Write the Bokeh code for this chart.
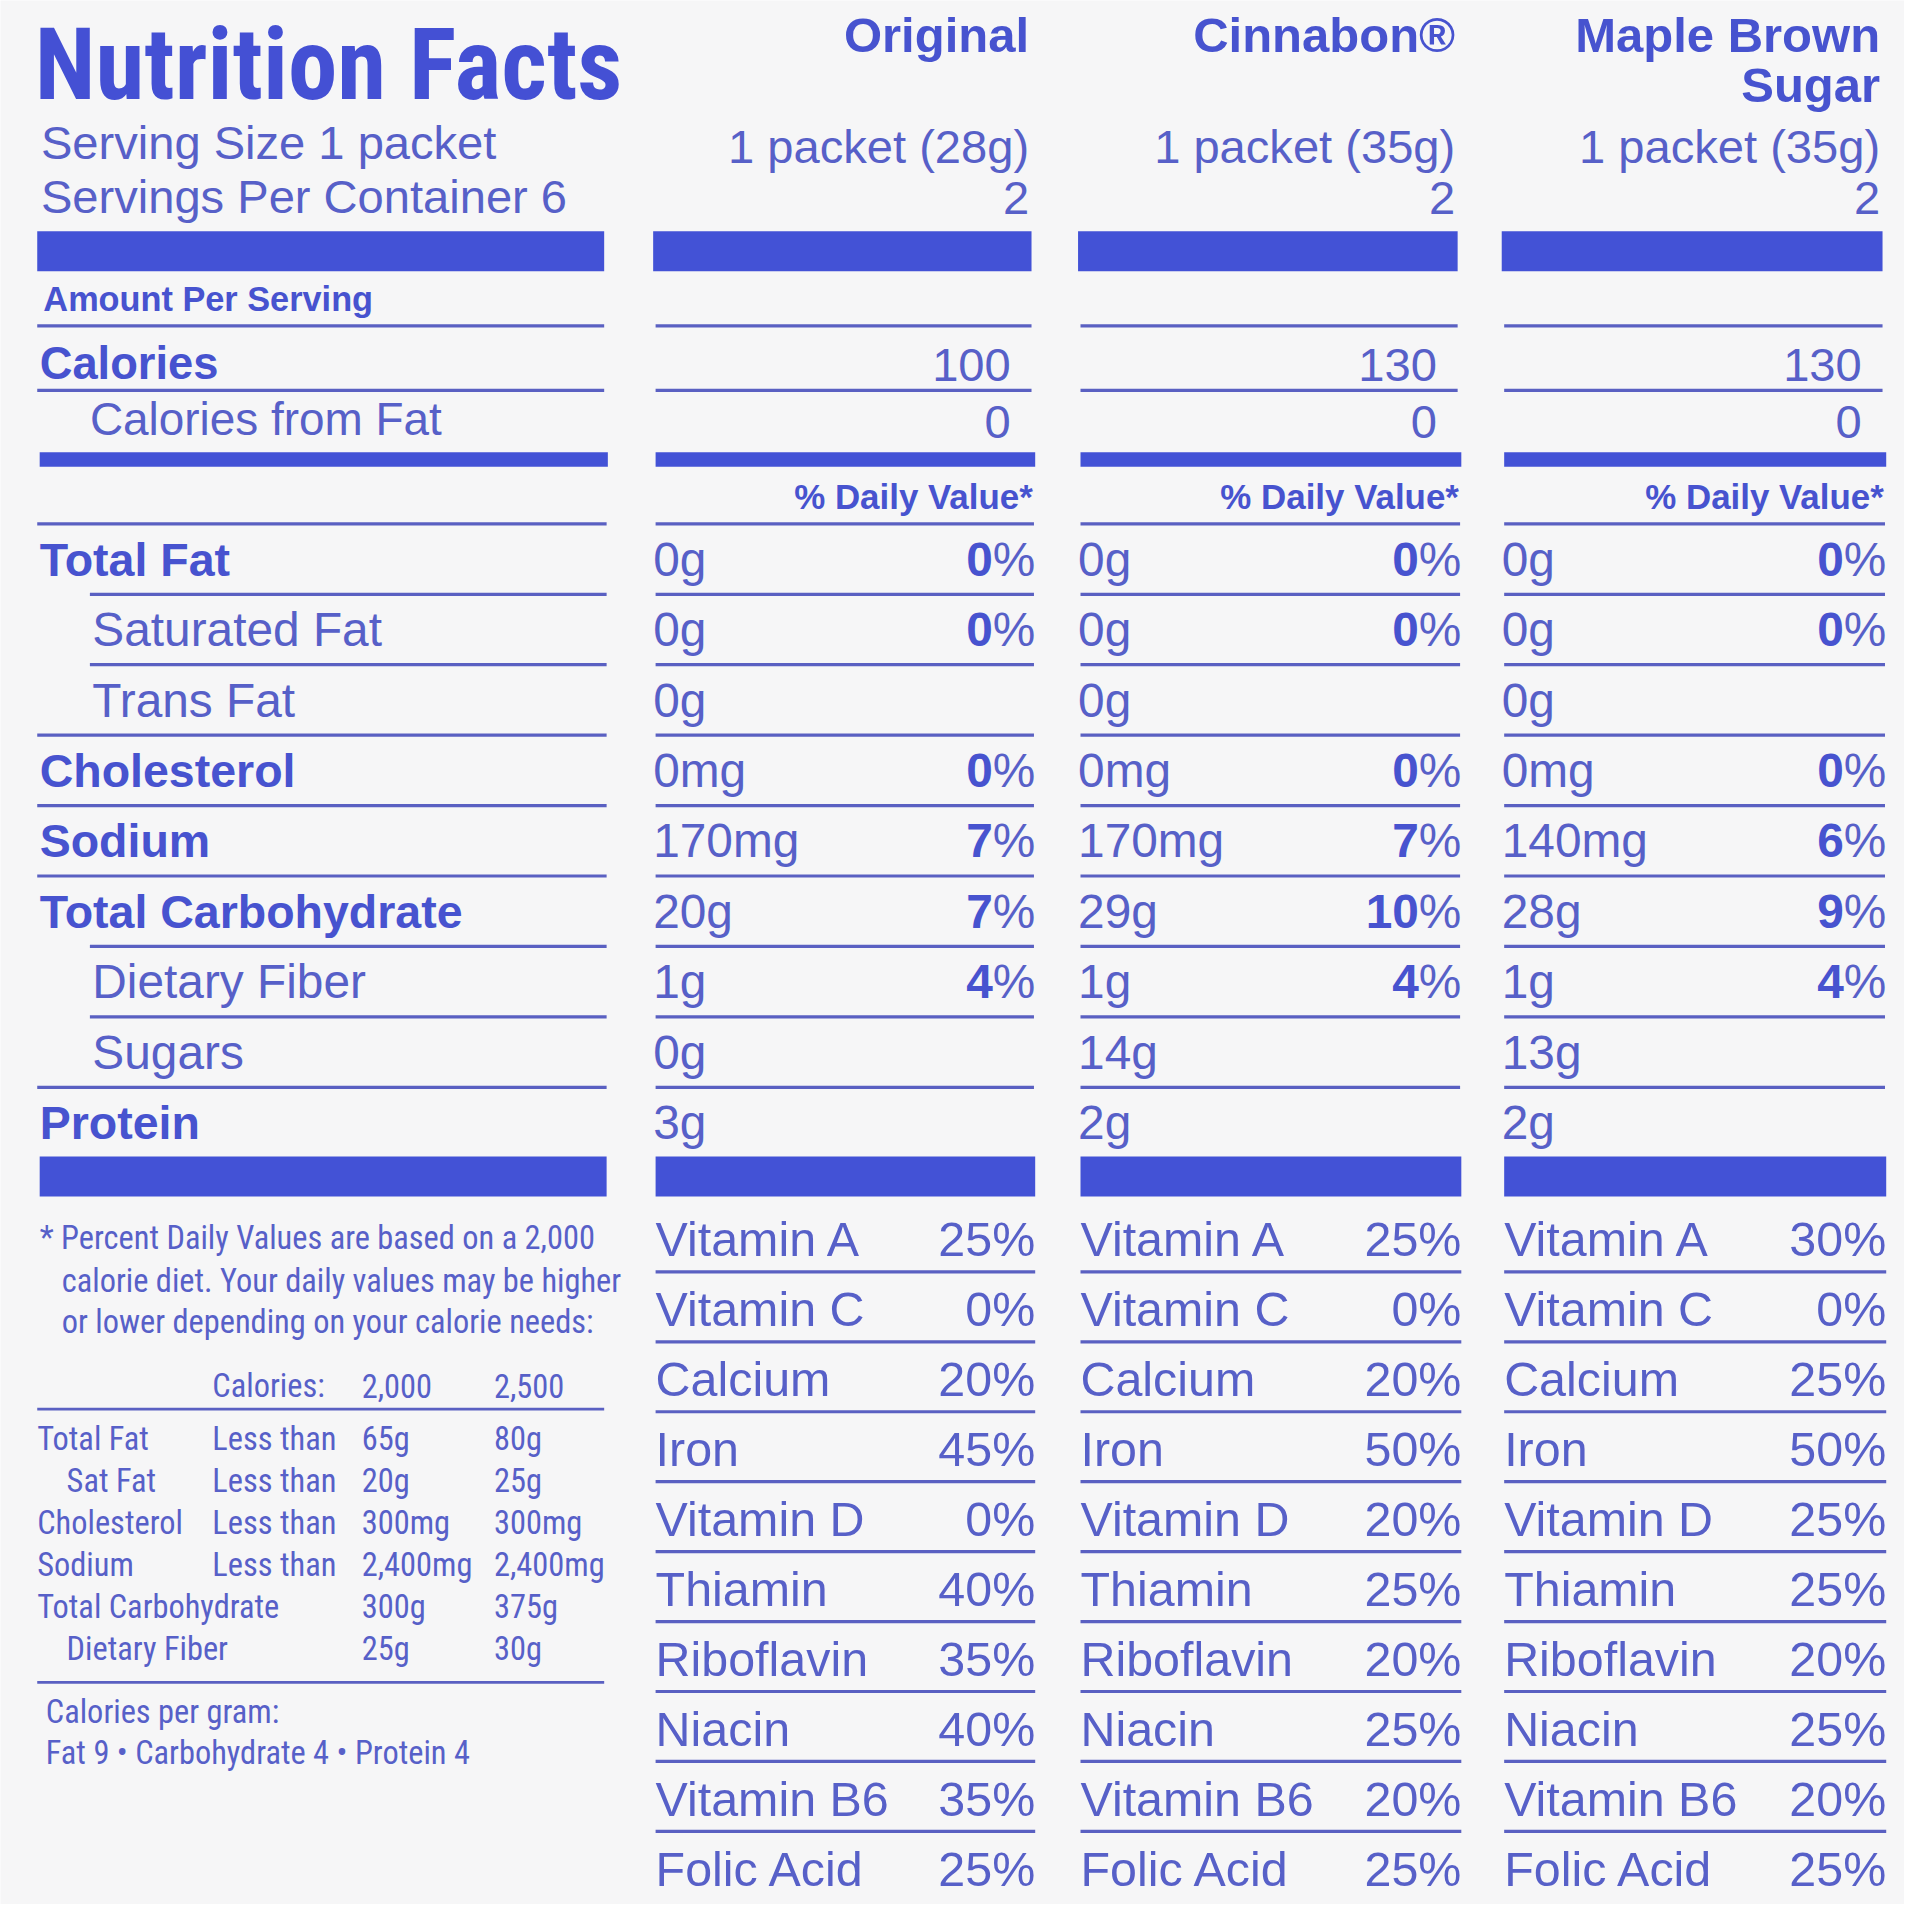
from bokeh.plotting import figure
from bokeh.models import Range1d, ColumnDataSource
from bokeh.embed import file_html
from bokeh.resources import INLINE
from bokeh.core.properties import value

# ---------------- data ----------------
products = ["Original", "Cinnabon®", "Maple Brown\nSugar"]
serving_sizes = ["1 packet (28g)", "1 packet (35g)", "1 packet (35g)"]
servings_per = ["2", "2", "2"]
calories = [100, 130, 130]
calories_fat = [0, 0, 0]

nutrients = ["Total Fat", "Saturated Fat", "Trans Fat", "Cholesterol", "Sodium",
             "Total Carbohydrate", "Dietary Fiber", "Sugars", "Protein"]
nutrient_bold = [True, False, False, True, True, True, False, False, True]
amounts = [
    ["0g", "0g", "0g", "0mg", "170mg", "20g", "1g", "0g", "3g"],
    ["0g", "0g", "0g", "0mg", "170mg", "29g", "1g", "14g", "2g"],
    ["0g", "0g", "0g", "0mg", "140mg", "28g", "1g", "13g", "2g"],
]
daily_values = [
    [0, 0, None, 0, 7, 7, 4, None, None],
    [0, 0, None, 0, 7, 10, 4, None, None],
    [0, 0, None, 0, 6, 9, 4, None, None],
]

vitamins = ["Vitamin A", "Vitamin C", "Calcium", "Iron", "Vitamin D", "Thiamin",
            "Riboflavin", "Niacin", "Vitamin B6", "Folic Acid"]
vitamin_pct = [
    [25, 0, 20, 45, 0, 40, 35, 40, 35, 25],
    [25, 0, 20, 50, 20, 25, 20, 25, 20, 25],
    [30, 0, 25, 50, 25, 25, 20, 25, 20, 25],
]

footnote = ["* Percent Daily Values are based on a 2,000",
            "calorie diet. Your daily values may be higher",
            "or lower depending on your calorie needs:"]
dv_header = ["Calories:", "2,000", "2,500"]
dv_labels = ["Total Fat", "Sat Fat", "Cholesterol", "Sodium", "Total Carbohydrate", "Dietary Fiber"]
dv_qual = ["Less than", "Less than", "Less than", "Less than", "", ""]
dv_2000 = ["65g", "20g", "300mg", "2,400mg", "300g", "25g"]
dv_2500 = ["80g", "25g", "300mg", "2,400mg", "375g", "30g"]
cal_per_gram = ["Calories per gram:", "Fat 9 \u2022 Carbohydrate 4 \u2022 Protein 4"]

# ---------------- styling / layout ----------------
W = 1904
S = 1920 / 1568.0          # reference px per layout unit
K = S
XR = W / S
YR = 1568.0
BG = "#f6f6f7"
BAR = "#4352d6"
TXT_B = "#4753cf"
TXT_R = "#5760c8"
LINE = "#5a60c2"
SANS = "Liberation Sans"
TITLE_FONT = "'Roboto Condensed', 'Liberation Sans'"
NARROW = "'Roboto Condensed', 'Liberation Sans'"
BASE_SHIFT = 0.33   # baseline correction (fraction of font size)

p = figure(width=W, height=W, x_range=Range1d(0, XR), y_range=Range1d(YR, 0),
           output_backend="svg", toolbar_location=None, min_border=0)
p.axis.visible = False
p.grid.visible = False
p.outline_line_color = None
p.background_fill_color = BG
p.border_fill_color = BG

texts = {}

def T(x, y, s, size, bold=False, align="left", font=SANS, color=None):
    if color is None:
        color = TXT_B if bold else TXT_R
    key = (font, size, bold, align, color)
    d = texts.setdefault(key, {"x": [], "y": [], "t": []})
    d["x"].append(x); d["y"].append(y - BASE_SHIFT * size); d["t"].append(s)

bars = {"l": [], "r": [], "t": [], "b": []}
def BARQ(l, r, t, b):
    bars["l"].append(l); bars["r"].append(r); bars["t"].append(t); bars["b"].append(b)

lines = {"xs": [], "ys": [], "w": []}
def HL(x0, x1, y, w=2.6):
    lines["xs"].append([x0, x1]); lines["ys"].append([y, y]); lines["w"].append(w * K)

col_l = [533, 880, 1226]
col_r = [843, 1191, 1538]

# Title and left header
T(28, 80, "Nutrition Facts", 81, bold=True, font=TITLE_FONT, color="#4450d4")
T(33, 130, "Serving Size 1 packet", 38.5)
T(33, 174, "Servings Per Container 6", 38.5)
BARQ(30, 493, 190, 223)
T(35, 255, "Amount Per Serving", 28, bold=True)
HL(30, 493, 268)
T(32, 311, "Calories", 37, bold=True)
HL(30, 493, 321)
T(73, 357, "Calories from Fat", 37.5)
BARQ(32, 496, 372, 384)
HL(30, 495, 431)

row_y0, row_dy = 473, 58.0
for i, name in enumerate(nutrients):
    y = row_y0 + i * row_dy
    indent = not nutrient_bold[i]
    T(75 if indent else 32, y, name, 39 if indent else 38, bold=nutrient_bold[i])
    if i < len(nutrients) - 1:
        nxt_indent = not nutrient_bold[i + 1]
        HL(73 if nxt_indent else 30, 495, y + 16)
BARQ(32, 495, 952, 985)

# left footnote
FS = 26.5
T(32, 1028, footnote[0], FS, font=NARROW)
T(50, 1063, footnote[1], FS, font=NARROW)
T(50, 1097, footnote[2], FS, font=NARROW)
T(173, 1150, dv_header[0], FS, font=NARROW)
T(295, 1150, dv_header[1], FS, font=NARROW)
T(403, 1150, dv_header[2], FS, font=NARROW)
HL(30, 493, 1160, 2.2)
for i, lab in enumerate(dv_labels):
    y = 1193 + i * 34.6
    T(54 if lab in ("Sat Fat", "Dietary Fiber") else 30, y, lab, FS, font=NARROW)
    if dv_qual[i]:
        T(173, y, dv_qual[i], FS, font=NARROW)
    T(295, y, dv_2000[i], FS, font=NARROW)
    T(403, y, dv_2500[i], FS, font=NARROW)
HL(30, 493, 1385, 2.2)
T(37, 1418, cal_per_gram[0], FS, font=NARROW)
T(37, 1452, cal_per_gram[1], FS, font=NARROW)

# product columns
PCT_W = 0.889 * 39
for c in range(3):
    L, R = col_l[c], col_r[c]
    name_lines = products[c].split("\n")
    for j, nl in enumerate(name_lines):
        T(R - 3, 42 + j * 41, nl, 40, bold=True, align="right")
    T(R - 3, 133, serving_sizes[c], 38.5, align="right")
    T(R - 3, 175, servings_per[c], 38.5, align="right")
    BARQ(L, R - 1, 190, 223)
    HL(L + 2, R - 1, 268)
    T(R - 18, 313, str(calories[c]), 38.5, align="right")
    HL(L + 2, R - 1, 321)
    T(R - 18, 360, str(calories_fat[c]), 38.5, align="right")
    BARQ(L + 2, R + 2, 372, 384)
    T(R, 418, "% Daily Value*", 28.5, bold=True, align="right")
    HL(L + 2, R + 1, 431)
    for i in range(len(nutrients)):
        y = row_y0 + i * row_dy
        T(L, y, amounts[c][i], 39)
        dv = daily_values[c][i]
        if dv is not None:
            T(R + 2, y, "%", 39, align="right")
            T(R + 2 - PCT_W, y, str(dv), 39, bold=True, align="right")
        if i < len(nutrients) - 1:
            HL(L + 2, R + 1, y + 16)
    BARQ(L + 2, R + 2, 952, 985)
    for i, vn in enumerate(vitamins):
        y = 1033 + i * 57.6
        T(L + 2, y, vn, 39.5)
        T(R + 2, y, f"{vitamin_pct[c][i]}%", 39.5, align="right")
        if i < len(vitamins) - 1:
            HL(L + 2, R + 2, y + 14)

p.quad(left="l", right="r", top="t", bottom="b", source=ColumnDataSource(bars),
       fill_color=BAR, line_color=None)
p.multi_line(xs="xs", ys="ys", line_width="w", source=ColumnDataSource(lines), line_color=LINE)

for (font, size, bold, align, color), d in texts.items():
    p.text(x="x", y="y", text="t", source=ColumnDataSource(d),
           text_font=value(font), text_font_size=value(f"{size * K:.1f}px"),
           text_font_style="bold" if bold else "normal",
           text_align=align, text_baseline="alphabetic", text_color=color)

open("out.html", "w").write(file_html(p, INLINE))
